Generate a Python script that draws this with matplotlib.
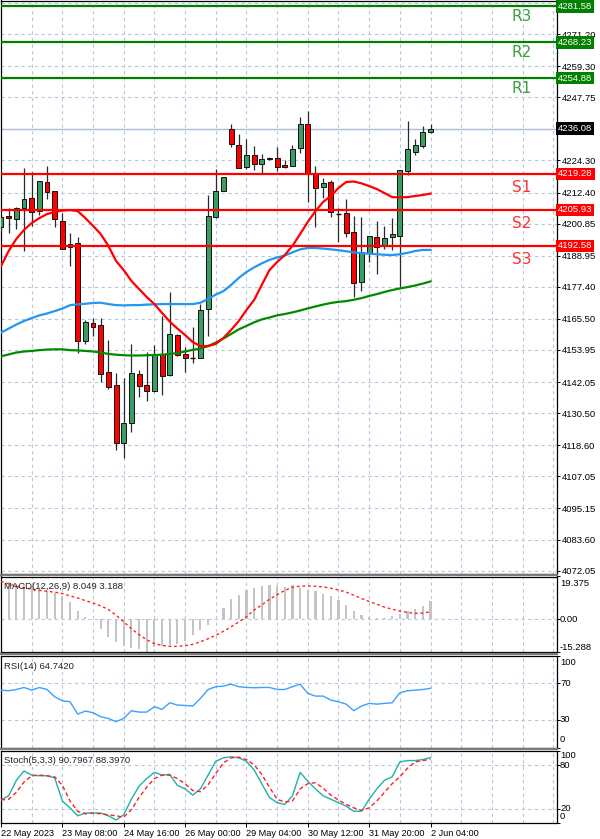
import matplotlib
matplotlib.use('Agg')
import matplotlib.pyplot as plt
import matplotlib.transforms as mtransforms
from matplotlib.lines import Line2D
import numpy as np

# ---------------- data ----------------
opens = [4199.7, 4203.7, 4202.5, 4206.5, 4210.3, 4205.5, 4216.4, 4213.0, 4201.8, 4193.2,
         4193.6, 4157.3, 4163.9, 4163.2, 4145.7, 4141.0, 4119.4, 4127.0, 4145.0, 4140.8,
         4138.9, 4152.3, 4144.5, 4159.6, 4152.5, 4151.0, 4150.9, 4169.1, 4203.4, 4213.1,
         4235.9, 4230.0, 4222.0, 4226.3, 4222.9, 4224.9, 4225.1, 4222.5, 4222.4, 4228.8,
         4237.8, 4219.3, 4214.3, 4216.4, 4204.6, 4204.7, 4197.6, 4179.3, 4190.1, 4196.0,
         4192.6, 4195.8, 4196.4, 4220.4, 4227.6, 4229.8, 4235.0]
highs = [4203.6, 4206.5, 4207.1, 4221.4, 4219.9, 4216.7, 4222.3, 4213.1, 4204.7, 4197.3,
         4195.8, 4165.1, 4165.7, 4165.7, 4157.7, 4145.4, 4143.4, 4156.1, 4146.5, 4153.2,
         4155.8, 4166.5, 4175.3, 4159.8, 4154.9, 4162.5, 4171.0, 4211.5, 4221.0, 4218.3,
         4237.8, 4234.1, 4232.2, 4229.8, 4226.7, 4225.6, 4229.2, 4224.5, 4230.0, 4240.3,
         4242.8, 4222.3, 4217.7, 4217.1, 4206.5, 4209.9, 4203.7, 4203.2, 4196.3, 4201.9,
         4200.1, 4203.1, 4220.8, 4239.1, 4232.2, 4237.1, 4237.8]
lows = [4197.9, 4197.3, 4198.7, 4190.6, 4199.9, 4204.0, 4209.9, 4199.7, 4191.3, 4185.0,
        4152.7, 4156.2, 4159.2, 4142.2, 4139.4, 4116.8, 4113.8, 4123.6, 4136.6, 4135.0,
        4138.4, 4137.1, 4144.3, 4151.7, 4145.7, 4149.1, 4150.8, 4159.1, 4202.8, 4213.1,
        4229.2, 4221.6, 4221.0, 4220.8, 4219.8, 4224.5, 4220.5, 4221.4, 4222.4, 4227.2,
        4209.0, 4199.5, 4210.3, 4203.4, 4194.2, 4195.8, 4173.7, 4176.0, 4186.7, 4182.2,
        4191.3, 4191.1, 4177.4, 4218.9, 4226.3, 4228.8, 4234.4]
closes = [4203.4, 4202.8, 4206.5, 4209.9, 4205.1, 4216.6, 4212.5, 4202.6, 4191.4, 4192.0,
          4157.4, 4164.2, 4162.6, 4145.0, 4140.3, 4119.4, 4127.0, 4145.4, 4140.4, 4138.7,
          4152.3, 4144.3, 4160.0, 4152.1, 4151.1, 4151.0, 4168.8, 4203.7, 4213.1, 4218.2,
          4230.3, 4221.6, 4226.3, 4222.9, 4224.8, 4225.1, 4222.0, 4221.8, 4228.5, 4237.8,
          4219.5, 4214.0, 4216.1, 4205.3, 4204.6, 4197.3, 4178.9, 4190.4, 4196.3, 4192.3,
          4195.6, 4197.0, 4220.8, 4228.5, 4230.0, 4235.0, 4236.08]

ma_red = [4185.1, 4190.7, 4195.2, 4198.5, 4201.1, 4202.9, 4204.4, 4205.2, 4205.7, 4205.9,
          4205.5, 4202.9, 4200.0, 4197.0, 4192.6, 4187.0, 4183.6, 4179.6, 4176.6, 4173.6,
          4171.0, 4167.7, 4164.5, 4161.9, 4159.5, 4156.9, 4155.4, 4155.4, 4156.2, 4158.4,
          4161.4, 4164.7, 4168.8, 4172.5, 4178.1, 4183.6, 4186.6, 4189.2, 4192.6, 4197.0,
          4201.5, 4205.5, 4208.9, 4211.1, 4214.1, 4216.3, 4216.5, 4215.8, 4214.8, 4213.7,
          4212.2, 4210.7, 4210.6, 4210.7, 4211.1, 4211.5, 4212.0]
ma_blue = [4160.4, 4161.9, 4163.4, 4164.7, 4165.8, 4166.8, 4167.5, 4168.4, 4169.3, 4170.6,
           4170.9, 4171.1, 4171.4, 4171.5, 4171.0, 4170.6, 4170.5, 4170.6, 4170.6, 4170.8,
           4170.9, 4171.0, 4171.0, 4171.0, 4171.0, 4171.0, 4171.5, 4172.9, 4174.5, 4175.8,
           4178.1, 4180.7, 4182.9, 4184.6, 4186.1, 4187.4, 4188.3, 4189.0, 4190.2, 4191.3,
           4191.8, 4191.8, 4191.6, 4191.3, 4191.0, 4190.6, 4190.2, 4189.9, 4189.7, 4189.5,
           4189.3, 4189.2, 4189.5, 4190.0, 4190.7, 4191.1, 4191.1]
ma_green = [4151.6, 4152.3, 4153.0, 4153.4, 4153.6, 4153.9, 4154.1, 4154.2, 4154.2, 4153.9,
            4153.8, 4153.6, 4153.4, 4153.0, 4152.5, 4152.2, 4152.0, 4151.9, 4151.9, 4152.0,
            4152.1, 4152.2, 4152.5, 4152.8, 4153.4, 4154.0, 4154.5, 4155.4, 4156.7, 4158.2,
            4159.9, 4161.6, 4162.9, 4164.2, 4165.3, 4166.0, 4166.8, 4167.3, 4167.9, 4168.6,
            4169.4, 4170.1, 4170.8, 4171.4, 4171.8, 4172.1, 4172.6, 4173.2, 4174.0, 4174.7,
            4175.5, 4176.2, 4176.8, 4177.3, 4177.9, 4178.6, 4179.4]

levels_r = [4254.88, 4268.23, 4281.58]
levels_s = [4219.28, 4205.93, 4192.58]
names_r = ['R1', 'R2', 'R3']
names_s = ['S1', 'S2', 'S3']
current_price = 4236.08

price_ticks = [4072.05, 4083.60, 4095.15, 4107.05, 4118.60, 4130.50, 4142.05, 4153.95,
               4165.50, 4177.40, 4188.95, 4200.85, 4212.40, 4224.30, 4247.75, 4259.30,
               4271.20]
price_grid_extra = [4235.85, 4282.75]

macd_main = [17.5, 16.8, 16.0, 15.5, 15.0, 13.5, 12.8, 11.6, 10.6, 7.8,
             3.6, 0.9, -0.3, -4.5, -8.3, -10.6, -12.4, -13.3, -13.9, -15.288,
             -12.9, -12.4, -12.1, -11.4, -10.3, -7.6, -5.3, -2.7, -0.2, 4.9,
             8.9, 11.0, 13.0, 14.05, 14.96, 15.27, 14.8, 14.5, 15.27, 14.05,
             13.4, 12.5, 11.5, 10.4, 8.4, 6.5, 3.4, 1.9, 0.8, 0.4,
             0.5, 1.3, 2.35, 3.4, 4.6, 5.8, 8.049]
macd_signal = [17.1, 16.0, 14.9, 14.2, 13.6, 13.0, 12.6, 12.2, 11.5, 10.5,
               9.5, 8.3, 7.2, 5.9, 4.2, 1.6, -1.4, -4.6, -7.3, -9.7,
               -11.4, -12.3, -12.7, -12.7, -12.4, -11.8, -10.6, -9.2, -7.6, -5.8,
               -3.7, -1.5, 0.9, 4.0, 6.3, 8.9, 11.0, 13.0, 14.4, 14.95,
               15.0, 14.9, 14.6, 14.0, 13.2, 12.2, 10.8, 9.3, 7.9, 6.7,
               5.3, 4.4, 3.5, 2.9, 2.4, 2.6, 3.188]
macd_max, macd_min = 19.375, -15.288

rsi = [62.7, 62.0, 63.4, 65.6, 62.7, 65.6, 63.4, 55.4, 51.1, 50.0,
       36.5, 39.8, 38.0, 33.6, 31.8, 28.2, 31.8, 40.2, 38.7, 38.7,
       44.6, 41.6, 48.9, 46.4, 46.0, 45.3, 53.7, 63.4, 66.4, 67.1,
       69.3, 66.4, 65.6, 65.3, 65.6, 65.6, 63.4, 63.4, 66.4, 69.3,
       59.1, 56.2, 56.2, 51.8, 50.0, 47.4, 40.2, 45.3, 48.2, 47.4,
       48.2, 48.9, 59.8, 62.0, 62.7, 63.4, 64.742]
stoch_main = [32.0, 37.8, 59.3, 72.3, 66.5, 65.6, 65.6, 62.7, 30.6, 21.0,
              10.0, 13.8, 13.8, 13.8, 10.0, 4.2, 11.4, 33.0, 51.2, 61.7,
              70.4, 66.5, 67.5, 52.2, 47.4, 38.7, 47.4, 66.5, 85.7, 90.5,
              91.9, 90.5, 85.7, 73.7, 54.6, 35.4, 28.2, 25.8, 37.8, 70.4,
              57.9, 47.4, 37.8, 33.0, 28.2, 23.4, 16.2, 16.2, 33.0, 47.4,
              59.3, 64.1, 84.8, 86.7, 86.7, 88.1, 90.7967]
stoch_signal = [32.0, 33.0, 42.6, 56.9, 65.6, 66.5, 65.6, 64.1, 52.2, 30.6,
                16.2, 12.8, 13.8, 12.8, 11.4, 10.0, 8.1, 18.6, 35.4, 49.8,
                61.7, 66.5, 66.5, 61.7, 54.6, 45.0, 43.5, 53.1, 68.9, 83.3,
                90.5, 91.5, 88.1, 80.9, 67.5, 49.8, 33.0, 29.1, 30.6, 47.4,
                54.6, 56.0, 48.3, 38.7, 32.0, 25.8, 21.0, 17.6, 21.0, 30.6,
                42.6, 54.6, 64.1, 76.1, 84.8, 86.7, 88.3970]

time_tick_idx = [0, 8, 16, 24, 32, 40, 48, 56]
time_tick_labels = ['22 May 2023', '23 May 08:00', '24 May 16:00', '26 May 00:00',
                    '29 May 04:00', '30 May 12:00', '31 May 20:00', '2 Jun 04:00']

# ---------------- layout ----------------
W, H = 600, 839
plt.rcParams['font.family'] = ['Liberation Sans', 'DejaVu Sans']
fig = plt.figure(figsize=(W / 100, H / 100), dpi=100)
fig.patch.set_facecolor('white')
FS = 6.8
FSX = 6.6

def add_ax(x0, y0, x1, y1):
    return fig.add_axes([x0 / W, 1 - y1 / H, (x1 - x0) / W, (y1 - y0) / H])

X0_PX, STEP = 1.0, 7.67
AX_L, AX_R = 0.5, 556.5
XLIM = ((AX_L - X0_PX) / STEP, (AX_R - X0_PX) / STEP)
GRID_C = '#b6c7de'
GRID_LS = (0, (3, 3))
n = len(closes)
idx = np.arange(n)

ax = add_ax(AX_L, 0.5, AX_R, 574)
ax_macd = add_ax(AX_L, 576.5, AX_R, 652)
ax_rsi = add_ax(AX_L, 656, AX_R, 747.5)
ax_st = add_ax(AX_L, 751, AX_R, 823)

for a in (ax, ax_macd, ax_rsi, ax_st):
    a.set_xlim(*XLIM)
    for s in a.spines.values():
        s.set_color('black')
        s.set_linewidth(0.9)
    a.set_xticks([])
    a.yaxis.tick_right()
    a.tick_params(axis='y', length=2.5, width=0.7, pad=1.5, labelsize=FS, colors='black')
    for k in range(4, 73, 4):
        a.axvline(k, color=GRID_C, lw=0.8, ls=GRID_LS, zorder=0)

# separators between panels
for yy in (575.3, 654.0, 749.3):
    fig.add_artist(Line2D([0, AX_R / W], [1 - yy / H] * 2, color='#7a7a7a', lw=1.6,
                          transform=fig.transFigure))

# ---------------- main price panel ----------------
ax.set_ylim(4070.80, 4283.68)
for v in price_ticks + price_grid_extra:
    ax.axhline(v, color=GRID_C, lw=0.8, ls=GRID_LS, zorder=0)
ax.set_yticks(price_ticks)
ax.set_yticklabels(['%.2f' % v for v in price_ticks])

ax.axhline(current_price, color='#aebdd4', lw=1.0, zorder=1)

# candles
O = np.array(opens); C = np.array(closes); Hh = np.array(highs); L = np.array(lows)
ax.vlines(idx, L, Hh, color='#2a2a2a', lw=0.9, zorder=3)
bw = 0.64
for i in range(n):
    lo, hi = min(O[i], C[i]), max(O[i], C[i])
    if C[i] > O[i]:
        fc = '#3a9e64'
    elif C[i] < O[i]:
        fc = '#ff0000'
    else:
        ax.hlines(O[i], i - bw / 2, i + bw / 2, color='#111111', lw=1.0, zorder=4)
        continue
    ax.bar(i, max(hi - lo, 0.35), bottom=lo, width=bw, color=fc,
           edgecolor='#111111', linewidth=0.7, zorder=4)

ax.plot(idx, ma_green, color='#008a00', lw=1.6, zorder=5)
ax.plot(idx, ma_blue, color='#2196f3', lw=1.6, zorder=5)
ax.plot(idx, ma_red, color='#ff0000', lw=1.6, zorder=5)

ytr = mtransforms.blended_transform_factory(ax.transAxes, ax.transData)
box_kw = dict(color='white', fontsize=FS, ha='left', va='center', clip_on=False, zorder=8,
              transform=ytr)
for v, nm in zip(levels_r, names_r):
    ax.axhline(v, color='#008000', lw=1.6, zorder=6)
    ax.text(67.9, v - 3.8, nm, color='#3f9c3f', fontsize=11, ha='center', va='center',
            zorder=7, family=['DejaVu Sans'])
    ax.text(1.003, v, '%.2f' % v,
            bbox=dict(boxstyle='square,pad=0.2', facecolor='#008000', edgecolor='none'),
            **box_kw)
for v, nm in zip(levels_s, names_s):
    ax.axhline(v, color='#ff0000', lw=1.6, zorder=6)
    ax.text(67.9, v - 5.0, nm, color='#ff3030', fontsize=11, ha='center', va='center',
            zorder=7, family=['DejaVu Sans'])
    ax.text(1.003, v, '%.2f' % v,
            bbox=dict(boxstyle='square,pad=0.2', facecolor='#ff0000', edgecolor='none'),
            **box_kw)
ax.text(1.003, current_price, '%.2f' % current_price,
        bbox=dict(boxstyle='square,pad=0.2', facecolor='black', edgecolor='none'),
        **box_kw)

# ---------------- MACD ----------------
ax_macd.set_ylim(macd_min, macd_max)
ax_macd.axhline(0, color=GRID_C, lw=0.8, ls=GRID_LS, zorder=0)
ax_macd.bar(idx, macd_main, width=0.28, color='#c4c4c4', zorder=2)
ax_macd.plot(idx, macd_signal, color='#ff2020', lw=1.0, ls=(0, (2, 2)), zorder=3)
ax_macd.set_yticks([macd_max, 0, macd_min])
ax_macd.set_yticklabels([])
ax_macd.text(0.006, 0.93, 'MACD(12,26,9) %.3f %.3f' % (macd_main[-1], macd_signal[-1]),
             transform=ax_macd.transAxes, fontsize=FS, va='top', ha='left', color='#222222')
for yy, s in ((583.5, '19.375'), (619.3, '0.00'), (647.5, '-15.288')):
    fig.text(560 / W, 1 - yy / H, s, fontsize=FS, va='center', ha='left')

# ---------------- RSI ----------------
ax_rsi.set_ylim(0, 100)
for v in (70, 30):
    ax_rsi.axhline(v, color=GRID_C, lw=0.8, ls=GRID_LS, zorder=0)
ax_rsi.plot(idx, rsi, color='#3ca0ff', lw=1.0, zorder=3)
ax_rsi.set_yticks([100, 70, 30, 0])
ax_rsi.set_yticklabels([])
ax_rsi.text(0.006, 0.93, 'RSI(14) %.4f' % rsi[-1], transform=ax_rsi.transAxes,
            fontsize=FS, va='top', ha='left', color='#222222')
for yy, s in ((662.5, '100'), (683.3, '70'), (720.0, '30'), (740.0, '0')):
    fig.text(560 / W, 1 - yy / H, s, fontsize=FS, va='center', ha='left')

# ---------------- Stochastic ----------------
ax_st.set_ylim(0, 100)
for v in (80, 20):
    ax_st.axhline(v, color=GRID_C, lw=0.8, ls=GRID_LS, zorder=0)
ax_st.plot(idx, stoch_main, color='#20b2aa', lw=1.0, zorder=3)
ax_st.plot(idx, stoch_signal, color='#ff2020', lw=1.0, ls=(0, (3, 2)), zorder=4)
ax_st.set_yticks([100, 80, 20, 0])
ax_st.set_yticklabels([])
ax_st.text(0.006, 0.93, 'Stoch(5,3,3) %.4f %.4f' % (stoch_main[-1], stoch_signal[-1]),
           transform=ax_st.transAxes, fontsize=FS, va='top', ha='left', color='#222222')
for yy, s in ((756.0, '100'), (765.0, '80'), (808.4, '20'), (816.4, '0')):
    fig.text(560 / W, 1 - yy / H, s, fontsize=FS, va='center', ha='left')

ax_st.set_xticks(time_tick_idx)
ax_st.set_xticklabels(time_tick_labels, ha='left', fontsize=FSX)
ax_st.tick_params(axis='x', length=3, width=0.7, pad=1.5, direction='out')

fig.savefig('out.png', dpi=100, facecolor='white')
